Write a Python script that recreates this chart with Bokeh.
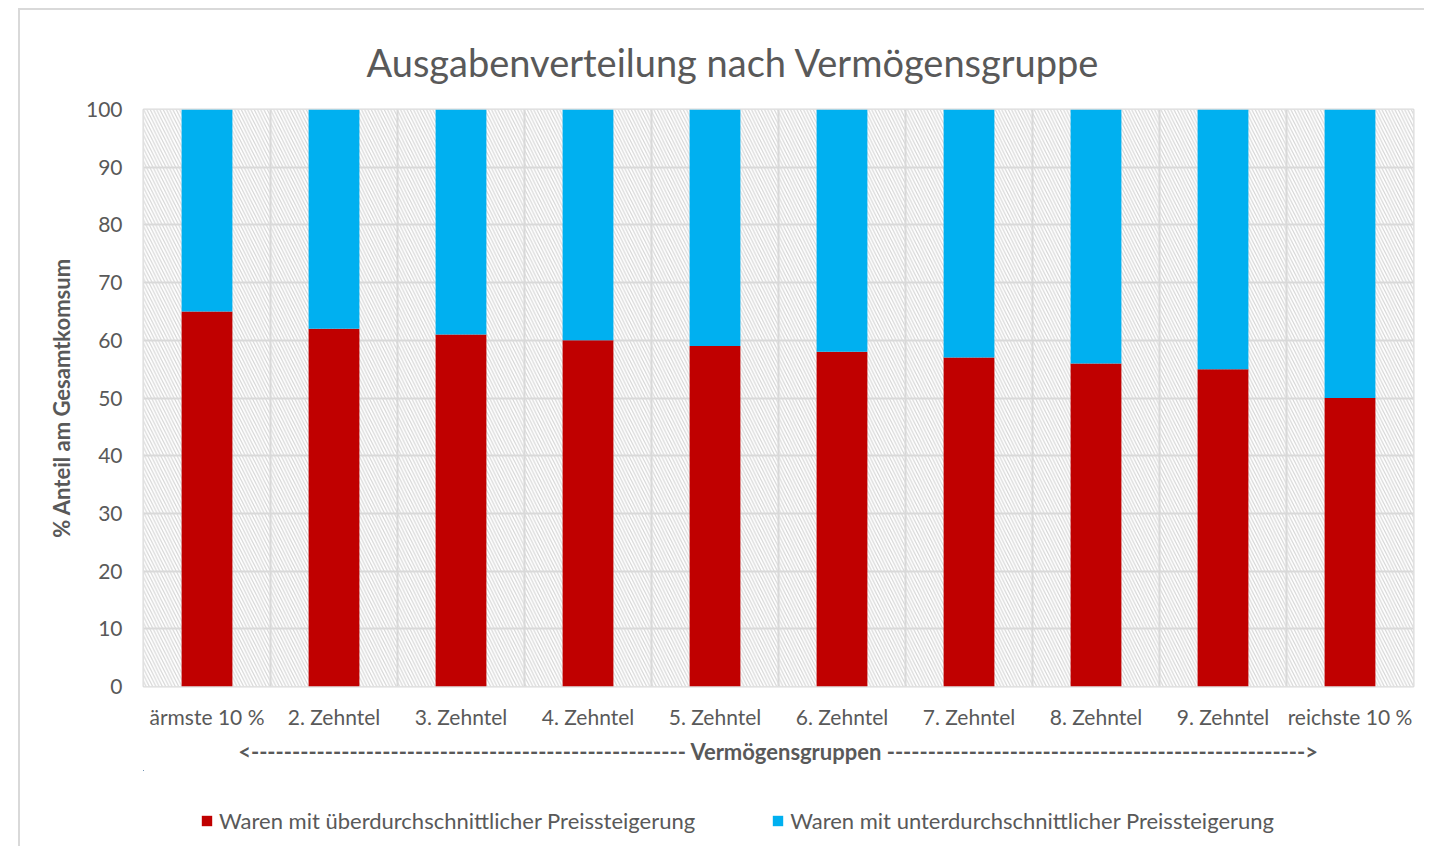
from bokeh.plotting import figure
from bokeh.layouts import column
from bokeh.models import Range1d, FixedTicker, Legend, LegendItem
from bokeh.embed import file_html
from bokeh.resources import INLINE

# ---- data ----
categories = ["ärmste 10 %", "2. Zehntel", "3. Zehntel", "4. Zehntel", "5. Zehntel",
              "6. Zehntel", "7. Zehntel", "8. Zehntel", "9. Zehntel", "reichste 10 %"]
above_avg = [65, 62, 61, 60, 59, 58, 57, 56, 55, 50]
below_avg = [35, 38, 39, 40, 41, 42, 43, 44, 45, 50]
series_names = ["Waren mit überdurchschnittlicher Preissteigerung",
                "Waren mit unterdurchschnittlicher Preissteigerung"]
y_ticks = [0, 10, 20, 30, 40, 50, 60, 70, 80, 90, 100]
title_text = "Ausgabenverteilung nach Vermögensgruppe"
y_label = "% Anteil am Gesamtkomsum"
x_label = "<" + "-" * 53 + " Vermögensgruppen " + "-" * 51 + ">"

RED = "#C00000"
BLUE = "#00B0F0"
GRID = "#d9d9d9"
TXT = "#595959"
FONT = "Lato"

n = len(categories)
xs = list(range(1, n + 1))
data = dict(x=xs, above=above_avg, below=below_avg)

p = figure(width=1404, height=760, output_backend="svg", toolbar_location=None,
           x_range=Range1d(0.5, n + 0.5), y_range=Range1d(y_ticks[0], y_ticks[-1]),
           min_border_left=123, min_border_right=11, min_border_top=99, min_border_bottom=84)
p.outline_line_color = GRID
p.outline_line_width = 2

# title
p.title.text = title_text
p.title.text_font = FONT
p.title.text_font_size = "38px"
p.title.text_font_style = "normal"
p.title.text_color = TXT
p.title.align = "left"
p.title.offset = 223
p.title.standoff = 50

# hatched plot background
p.quad(left=[0.5], right=[n + 0.5], bottom=[y_ticks[0]], top=[y_ticks[-1]],
       fill_color="white", line_color=None, hatch_pattern="\\",
       hatch_color="#d6d6d6", hatch_scale=6.5, hatch_weight=1.2, level="image")

# grids
p.ygrid.ticker = FixedTicker(ticks=y_ticks)
p.ygrid.grid_line_color = GRID
p.ygrid.grid_line_width = 2
p.xgrid.ticker = FixedTicker(ticks=[i + 0.5 for i in range(0, n + 1)])
p.xgrid.grid_line_color = GRID
p.xgrid.grid_line_width = 2

# bars
p.vbar_stack(["above", "below"], x="x", width=0.4, source=data,
             color=[RED, BLUE], line_color=None)

# axes
p.yaxis.ticker = FixedTicker(ticks=y_ticks)
p.xaxis.ticker = FixedTicker(ticks=xs)
p.xaxis.major_label_overrides = {x: c for x, c in zip(xs, categories)}
for ax in (p.xaxis[0], p.yaxis[0]):
    ax.axis_line_color = None
    ax.major_tick_line_color = None
    ax.minor_tick_line_color = None
    ax.major_label_text_font = FONT
    ax.major_label_text_font_size = "21px"
    ax.major_label_text_color = TXT
    ax.axis_label_text_font = FONT
    ax.axis_label_text_font_size = "22px"
    ax.axis_label_text_font_style = "bold"
    ax.axis_label_text_color = TXT
p.yaxis.major_label_standoff = 15
p.xaxis.major_label_standoff = 11
p.yaxis.axis_label = y_label
p.yaxis.axis_label_standoff = 8
p.xaxis.axis_label = x_label
p.xaxis.axis_label_standoff = 6

# legend strip (its own small figure, bars kept out of view, only the legend shows)
lf = figure(width=1404, height=76, output_backend="svg", toolbar_location=None,
            x_range=Range1d(20, 21), y_range=Range1d(-2, -1),
            x_axis_type=None, y_axis_type=None,
            min_border_left=0, min_border_right=0, min_border_top=0, min_border_bottom=0)
lf.outline_line_color = None
lf.grid.visible = False
lrs = lf.vbar_stack(["above", "below"], x="x", width=0.4, source=data,
                    color=[RED, BLUE], line_color=None)
legend = Legend(items=[LegendItem(label=series_names[0], renderers=[lrs[0]]),
                       LegendItem(label=series_names[1], renderers=[lrs[1]])],
                orientation="horizontal", location=(57, 12),
                label_text_font=FONT, label_text_font_size="22px", label_text_color=TXT,
                glyph_width=13, glyph_height=13, label_standoff=6, spacing=76,
                padding=0, margin=0, border_line_color=None, background_fill_alpha=0)
lf.add_layout(legend, "center")

layout = column(p, lf, spacing=0,
                styles={"transform": "translate(18px, 8px)", "border-left": "2px solid #d9d9d9",
                        "border-top": "2px solid #d9d9d9"})

open("out.html", "w").write(file_html(layout, INLINE))
